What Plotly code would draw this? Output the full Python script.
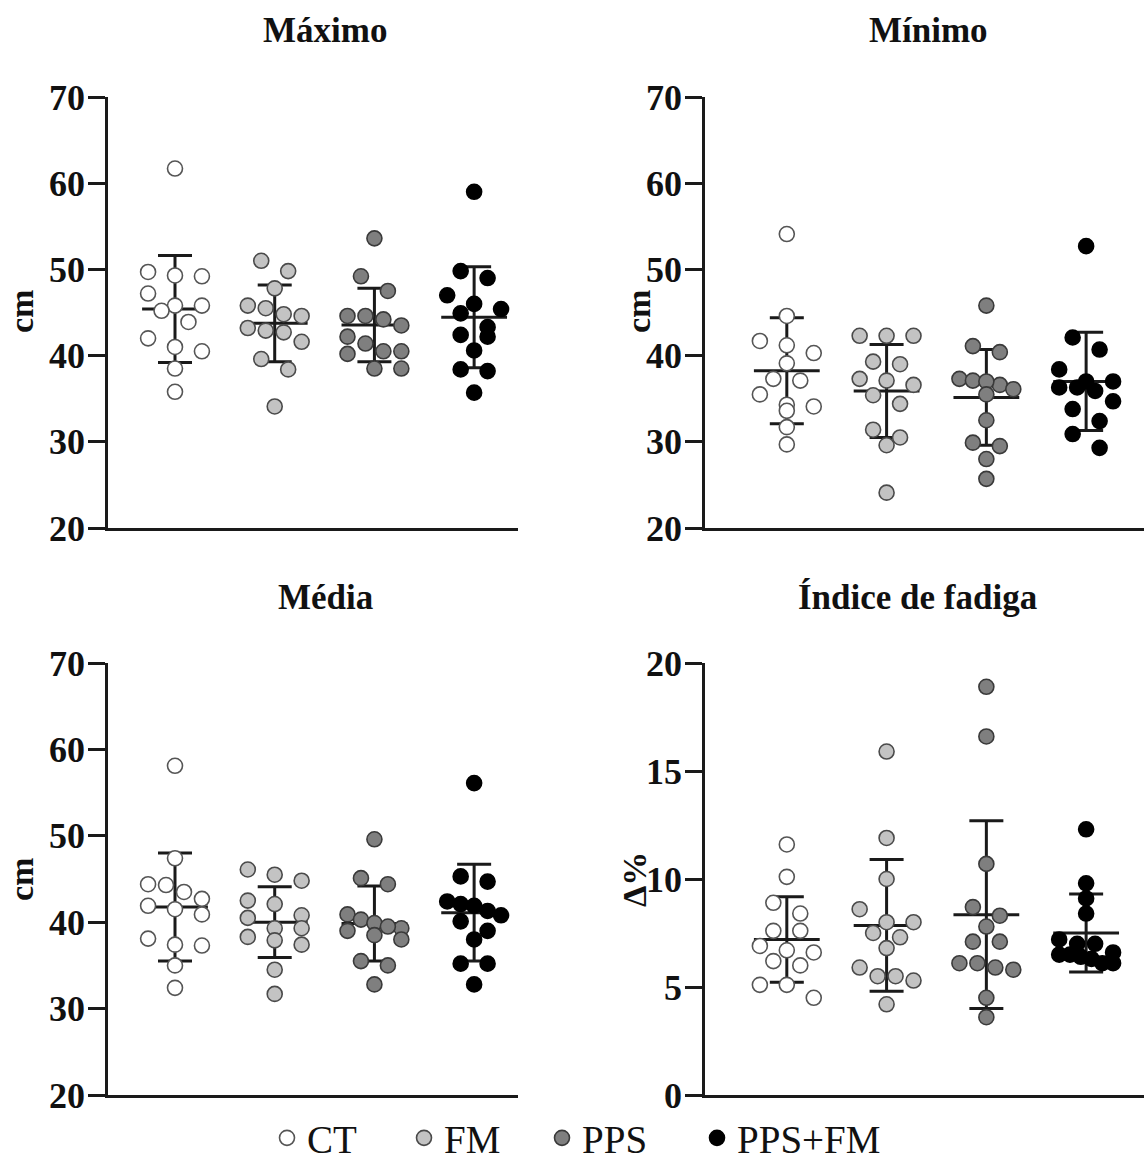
import plotly.graph_objects as go

W, H = 1144, 1162

groups = ["CT", "FM", "PPS", "PPS+FM"]
fills = ["#ffffff", "#c3c3c3", "#7f7f7f", "#000000"]
edges = ["#555555", "#4a4a4a", "#3a3a3a", "#000000"]

# ---- Máximo (cm)
max_ct = [61.7, 49.3, 49.2, 49.7, 47.2, 45.8, 45.8, 45.2, 43.9, 42.0, 41.0, 40.5, 38.5, 35.8]
max_fm = [51.0, 49.8, 47.8, 45.5, 45.8, 44.6, 44.8, 42.7, 42.9, 43.2, 41.6, 39.6, 38.4, 34.1]
max_pps = [53.6, 49.2, 47.5, 44.6, 44.2, 44.6, 43.5, 42.2, 41.4, 40.5, 40.2, 40.5, 38.5, 38.5]
max_ppsfm = [59.0, 49.8, 49.0, 47.0, 46.0, 45.4, 44.9, 43.3, 42.2, 42.4, 40.6, 38.4, 38.2, 35.7]
max_mean = [45.4, 43.75, 43.55, 44.45]
max_sd = [6.2, 4.45, 4.25, 5.85]

# ---- Mínimo (cm)
min_ct = [54.1, 44.6, 41.7, 40.3, 41.2, 39.1, 37.1, 37.3, 35.5, 34.1, 34.3, 33.6, 31.7, 29.7]
min_fm = [42.3, 42.3, 42.3, 39.3, 39.0, 36.6, 37.3, 37.1, 35.4, 34.4, 31.4, 30.5, 29.6, 24.1]
min_pps = [45.8, 41.1, 40.4, 37.3, 36.6, 37.1, 37.0, 36.1, 35.5, 32.5, 29.5, 29.9, 28.0, 25.7]
min_ppsfm = [52.7, 42.1, 40.7, 38.4, 37.0, 37.0, 35.9, 36.3, 36.3, 34.7, 33.8, 32.4, 30.9, 29.3]
min_mean = [38.25, 35.9, 35.15, 37.0]
min_sd = [6.15, 5.4, 5.55, 5.7]

# ---- Média (cm)
med_ct = [58.1, 47.4, 44.3, 44.4, 43.5, 42.7, 41.9, 41.5, 40.9, 38.1, 37.4, 37.3, 35.0, 32.4]
med_fm = [46.1, 45.5, 44.8, 42.1, 42.5, 40.5, 40.8, 39.3, 39.3, 37.9, 37.4, 38.3, 34.5, 31.7]
med_pps = [49.6, 45.1, 44.4, 40.9, 40.3, 39.9, 39.3, 39.5, 39.0, 38.5, 38.0, 35.5, 35.0, 32.8]
med_ppsfm = [56.1, 45.3, 44.7, 42.4, 41.9, 42.1, 41.3, 40.8, 40.1, 39.0, 38.0, 35.2, 35.2, 32.8]
med_mean = [41.75, 40.0, 39.85, 41.1]
med_sd = [6.25, 4.1, 4.35, 5.6]

# ---- Índice de fadiga (Δ%)
fat_ct = [11.6, 10.1, 8.9, 8.4, 7.6, 7.6, 6.7, 6.6, 6.9, 6.2, 6.0, 5.1, 5.1, 4.5]
fat_fm = [15.9, 11.9, 10.0, 8.6, 8.0, 8.0, 7.5, 7.3, 6.8, 5.9, 5.5, 5.3, 5.5, 4.2]
fat_pps = [18.9, 16.6, 10.7, 8.7, 8.3, 7.8, 7.1, 7.1, 6.1, 5.8, 5.9, 6.1, 4.5, 3.6]
fat_ppsfm = [12.3, 9.8, 9.1, 8.4, 7.2, 7.0, 7.0, 6.3, 6.6, 6.4, 6.5, 6.5, 6.1, 6.1]
fat_mean = [7.2, 7.85, 8.35, 7.5]
fat_sd = [1.98, 3.05, 4.35, 1.8]

panels = [
    dict(title="Máximo", ylab="cm", data=[max_ct, max_fm, max_pps, max_ppsfm],
         mean=max_mean, sd=max_sd, yr=[20, 70], dtick=10,
         box=(108, 518, 97, 528), xr=[-0.672, 3.44], tpos=(325, 31), lpos=(21, 312)),
    dict(title="Mínimo", ylab="cm", data=[min_ct, min_fm, min_pps, min_ppsfm],
         mean=min_mean, sd=min_sd, yr=[20, 70], dtick=10,
         box=(705, 1144, 97, 528), xr=[-0.82, 3.58], tpos=(928, 31), lpos=(638, 312)),
    dict(title="Média", ylab="cm", data=[med_ct, med_fm, med_pps, med_ppsfm],
         mean=med_mean, sd=med_sd, yr=[20, 70], dtick=10,
         box=(108, 518, 663, 1095), xr=[-0.672, 3.44], tpos=(325, 597), lpos=(21, 880)),
    dict(title="Índice de fadiga", ylab="Δ%", data=[fat_ct, fat_fm, fat_pps, fat_ppsfm],
         mean=fat_mean, sd=fat_sd, yr=[0, 20], dtick=5,
         box=(705, 1144, 663, 1095), xr=[-0.82, 3.58], tpos=(917, 597), lpos=(634, 880)),
]

FONT = "Liberation Serif"
AX = "#1a1a1a"
MARKER = 15


def swarm(values, unit_px, diam_px=15.0, half_width=0.27):
    order = sorted(range(len(values)), key=lambda k: -values[k])
    rows = []
    for k in order:
        if rows and (values[rows[-1][0]] - values[k]) * unit_px < diam_px:
            rows[-1].append(k)
        else:
            rows.append([k])
    offs = [0.0] * len(values)
    for row in rows:
        n = len(row)
        if n == 1:
            pos = [0.0]
        else:
            step = 0.27 if n <= 3 else 2 * half_width / (n - 1)
            pos = [(j - (n - 1) / 2) * step for j in range(n)]
        for j, k in enumerate(row):
            offs[k] = pos[j]
    return offs


fig = go.Figure()
annotations = []
legend_w = [92, 93, 110, 150]

for i, p in enumerate(panels):
    sfx = "" if i == 0 else str(i + 1)
    xa, ya = "x" + sfx, "y" + sfx
    x0, x1, y0, y1 = p["box"]
    unit_px = (y1 - y0) / (p["yr"][1] - p["yr"][0])

    # mean line with SD error bars
    fig.add_trace(go.Scatter(
        x=list(range(4)), y=p["mean"], mode="markers", xaxis=xa, yaxis=ya,
        showlegend=False, hoverinfo="skip",
        marker=dict(symbol="line-ew", size=47, color=AX, line=dict(color=AX, width=3)),
        error_y=dict(type="data", array=p["sd"], visible=True, color=AX, thickness=3, width=17),
    ))
    for g, vals in enumerate(p["data"]):
        offs = swarm(vals, unit_px)
        fig.add_trace(go.Scatter(
            x=[g + o for o in offs], y=vals, mode="markers", xaxis=xa, yaxis=ya,
            name=groups[g], showlegend=(i == 0), legendwidth=legend_w[g],
            marker=dict(size=MARKER, color=fills[g], line=dict(color=edges[g], width=1.6)),
        ))

    fig.layout["xaxis" + sfx] = dict(
        domain=[x0 / W, x1 / W], range=p["xr"], anchor=ya,
        showline=True, linewidth=2.5, linecolor=AX, ticks="", showticklabels=False,
        showgrid=False, zeroline=False, fixedrange=True,
    )
    fig.layout["yaxis" + sfx] = dict(
        domain=[1 - y1 / H, 1 - y0 / H], range=p["yr"], dtick=p["dtick"], tick0=0, anchor=xa,
        showline=True, linewidth=2.5, linecolor=AX, ticks="outside", ticklen=17,
        tickwidth=2.5, tickcolor=AX, showgrid=False, zeroline=False, ticklabelstandoff=-4,
        tickfont=dict(family=FONT, size=36, color="#111111", weight="bold"),
    )
    annotations.append(dict(
        text=p["title"], x=p["tpos"][0] / W, y=1 - p["tpos"][1] / H, xref="paper", yref="paper",
        xanchor="center", yanchor="middle", showarrow=False,
        font=dict(family=FONT, size=35, color="#111111", weight="bold"),
    ))
    annotations.append(dict(
        text=p["ylab"], x=p["lpos"][0] / W, y=1 - p["lpos"][1] / H, xref="paper", yref="paper",
        xanchor="center", yanchor="middle", showarrow=False, textangle=-90,
        font=dict(family=FONT, size=34, color="#111111", weight="bold"),
    ))

fig.update_layout(
    width=W, height=H, margin=dict(l=0, r=0, t=0, b=0, autoexpand=False),
    paper_bgcolor="white", plot_bgcolor="white",
    annotations=annotations,
    showlegend=True,
    legend=dict(orientation="h", x=267 / W, xanchor="left", y=1 - 1106 / H, yanchor="top",
                font=dict(family=FONT, size=39, color="#111111"), itemsizing="trace",
                bgcolor="rgba(0,0,0,0)", borderwidth=0, tracegroupgap=0),
)

fig.write_html("out.html")
